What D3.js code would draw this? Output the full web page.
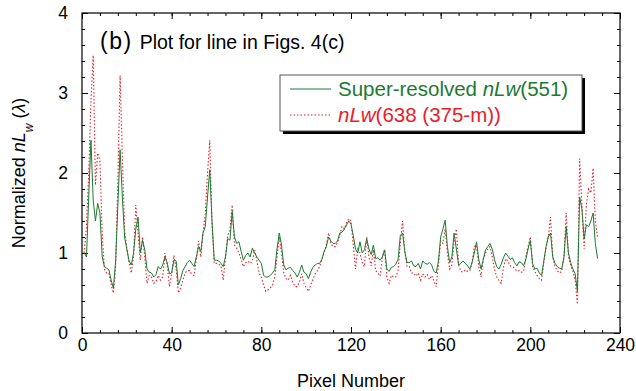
<!DOCTYPE html>
<html>
<head>
<meta charset="utf-8">
<script src="https://cdn.jsdelivr.net/npm/d3@7/dist/d3.min.js"></script>
<style>
  body { margin: 0; background: #fff; }
  svg { display: block; font-family: "Liberation Sans", Arial, sans-serif; }
</style>
</head>
<body>
<svg></svg>
<script>
// pixel numbers start at 1, one value per pixel along the line
var firstPixel = 1;

var superResolved = [
  1.00, 0.95, 1.70, 2.41, 1.66, 1.40, 1.62, 1.50, 0.96, 0.83,
  0.81, 0.79, 0.66, 0.56, 0.90, 1.60, 2.29, 1.70, 1.20, 1.05,
  0.90, 0.85, 1.00, 1.30, 1.45, 1.00, 1.16, 1.04, 0.80, 0.76,
  0.75, 0.70, 0.73, 0.83, 0.80, 0.85, 0.95, 0.88, 0.74, 0.75,
  0.91, 0.90, 0.60, 0.68, 0.78, 0.83, 0.88, 0.91, 0.87, 0.83,
  0.95, 1.08, 1.02, 1.25, 1.33, 1.70, 2.04, 1.40, 0.91, 0.91,
  0.90, 0.87, 0.83, 0.95, 1.18, 1.16, 1.52, 1.20, 1.12, 1.14,
  1.02, 0.91, 0.97, 1.00, 0.95, 1.06, 1.00, 0.95, 0.91, 0.87,
  0.72, 0.70, 0.70, 0.72, 0.75, 0.79, 1.05, 1.25, 1.10, 0.85,
  0.79, 0.81, 0.82, 0.78, 0.75, 0.70, 0.76, 0.85, 0.76, 0.74,
  0.68, 0.76, 0.82, 0.85, 0.87, 0.87, 0.92, 1.02, 1.08, 1.20,
  1.15, 1.12, 1.12, 1.15, 1.25, 1.26, 1.30, 1.35, 1.40, 1.36,
  1.22, 1.05, 1.00, 1.14, 1.00, 1.04, 1.18, 1.05, 0.98, 1.10,
  0.93, 0.94, 0.91, 0.95, 1.04, 0.80, 0.77, 0.82, 0.83, 0.86,
  0.92, 1.22, 1.25, 1.02, 0.88, 0.88, 0.90, 0.84, 0.83, 0.87,
  0.80, 0.90, 0.87, 0.86, 0.88, 0.85, 0.77, 0.75, 0.90, 1.20,
  1.30, 1.41, 1.08, 0.88, 0.95, 1.25, 1.05, 0.85, 0.87, 0.90,
  0.87, 0.84, 0.80, 0.88, 1.00, 1.14, 0.92, 0.80, 0.92, 1.04,
  1.08, 1.12, 1.05, 0.92, 0.83, 0.80, 0.86, 0.94, 1.00, 0.96,
  0.92, 0.94, 0.88, 0.84, 0.89, 0.88, 0.84, 0.92, 1.05, 1.16,
  0.87, 0.80, 0.81, 0.75, 0.72, 0.90, 1.08, 1.20, 1.25, 0.95,
  0.87, 0.83, 0.81, 0.80, 0.95, 1.33, 1.00, 0.88, 0.80, 0.74,
  0.52, 1.70, 1.55, 1.18, 1.35, 1.33, 1.40, 1.50, 1.12, 0.93
];

var band638 = [
  1.00, 1.33, 2.00, 2.90, 3.47, 1.85, 2.25, 2.15, 1.25, 0.80,
  0.75, 0.75, 0.60, 0.50, 0.83, 1.90, 3.22, 2.20, 1.30, 1.05,
  0.88, 0.75, 0.95, 1.60, 1.25, 0.91, 1.20, 0.95, 0.62, 0.72,
  0.70, 0.62, 0.64, 0.72, 0.66, 0.70, 1.00, 0.85, 0.58, 0.75,
  0.97, 0.80, 0.50, 0.56, 0.66, 0.75, 0.78, 0.78, 0.73, 0.72,
  0.92, 1.15, 0.95, 1.25, 1.50, 2.00, 2.41, 1.35, 0.87, 0.87,
  0.86, 0.84, 0.66, 0.95, 1.22, 1.28, 1.60, 1.10, 1.06, 1.00,
  0.92, 0.83, 0.88, 0.90, 0.87, 0.90, 1.04, 0.91, 0.75, 0.70,
  0.60, 0.52, 0.54, 0.56, 0.60, 0.70, 0.95, 1.20, 1.00, 0.75,
  0.68, 0.66, 0.72, 0.64, 0.58, 0.58, 0.64, 0.74, 0.62, 0.57,
  0.52, 0.60, 0.67, 0.74, 0.78, 0.83, 0.92, 1.00, 1.10, 1.25,
  1.12, 1.08, 1.08, 1.13, 1.22, 1.33, 1.30, 1.38, 1.43, 1.40,
  1.10, 0.80, 1.05, 1.00, 0.88, 0.83, 1.20, 0.95, 0.84, 1.04,
  0.78, 0.75, 0.71, 0.95, 1.04, 0.70, 0.62, 0.72, 0.70, 0.70,
  0.78, 1.12, 1.40, 1.02, 0.83, 0.83, 0.75, 0.75, 0.71, 0.75,
  0.66, 0.74, 0.70, 0.73, 0.67, 0.72, 0.65, 0.58, 0.85, 1.15,
  1.12, 1.30, 1.00, 0.80, 0.85, 1.15, 1.30, 0.85, 0.77, 0.76,
  0.79, 0.77, 0.78, 0.88, 1.08, 1.10, 0.83, 0.70, 0.92, 1.00,
  1.05, 1.08, 0.95, 0.80, 0.70, 0.66, 0.62, 0.82, 0.93, 0.90,
  0.84, 0.83, 0.81, 0.77, 0.78, 0.76, 0.77, 0.95, 1.08, 1.20,
  0.83, 0.77, 0.72, 0.68, 0.66, 0.88, 1.05, 1.20, 1.45, 0.95,
  0.83, 0.78, 0.75, 0.77, 0.95, 1.50, 0.95, 0.85, 0.77, 0.66,
  0.36, 2.18, 1.60, 1.05, 1.60, 1.80, 1.75, 2.06, 1.40, 1.20
];

var xTicks = [0, 40, 80, 120, 160, 200, 240];
var yTicks = [0, 1, 2, 3, 4];

var width = 636;
var height = 391;
var margin = {left: 82, right: 16, top: 13, bottom: 58};

var green = "#1c7a32";
var red = "#e8202a";

var svg = d3.select('svg')
  .attr('width', width)
  .attr('height', height);

var xScale = d3.scaleLinear()
  .domain([0, 240])
  .range([margin.left, width - margin.right]);

var yScale = d3.scaleLinear()
  .domain([0, 4])
  .range([height - margin.bottom, margin.top]);

var plotW = width - margin.left - margin.right;
var plotH = height - margin.top - margin.bottom;

// frame
svg.append('rect')
  .attr('x', margin.left)
  .attr('y', margin.top)
  .attr('width', plotW)
  .attr('height', plotH)
  .attr('fill', 'none')
  .attr('stroke', '#000')
  .attr('stroke-width', 1.2);

function styleAxis(g) {
  g.select('.domain').remove();
  g.selectAll('.tick line').attr('stroke', '#000').attr('stroke-width', 1);
  g.selectAll('.tick text').attr('fill', '#000').style('font-size', '17.5px').style('font-family', '"Liberation Sans", Arial, sans-serif');
}

var minorX = d3.range(0, 241, 8);
var minorY = d3.range(0, 4.01, 0.2);

// bottom
svg.append('g').attr('transform', 'translate(0,' + (height - margin.bottom) + ')')
  .call(d3.axisBottom(xScale).tickValues(minorX).tickSize(-3).tickFormat(''))
  .call(styleAxis);
svg.append('g').attr('transform', 'translate(0,' + (height - margin.bottom) + ')')
  .call(d3.axisBottom(xScale).tickValues(xTicks).tickSize(-6).tickPadding(6).tickFormat(d3.format('d')))
  .call(styleAxis);
// top
svg.append('g').attr('transform', 'translate(0,' + margin.top + ')')
  .call(d3.axisTop(xScale).tickValues(minorX).tickSize(-3).tickFormat(''))
  .call(styleAxis);
svg.append('g').attr('transform', 'translate(0,' + margin.top + ')')
  .call(d3.axisTop(xScale).tickValues(xTicks).tickSize(-6).tickFormat(''))
  .call(styleAxis);
// left
svg.append('g').attr('transform', 'translate(' + margin.left + ',0)')
  .call(d3.axisLeft(yScale).tickValues(minorY).tickSize(-3).tickFormat(''))
  .call(styleAxis);
svg.append('g').attr('transform', 'translate(' + margin.left + ',0)')
  .call(d3.axisLeft(yScale).tickValues(yTicks).tickSize(-6).tickPadding(14).tickFormat(d3.format('d')))
  .call(styleAxis);
// right
svg.append('g').attr('transform', 'translate(' + (width - margin.right) + ',0)')
  .call(d3.axisRight(yScale).tickValues(minorY).tickSize(-3).tickFormat(''))
  .call(styleAxis);
svg.append('g').attr('transform', 'translate(' + (width - margin.right) + ',0)')
  .call(d3.axisRight(yScale).tickValues(yTicks).tickSize(-6).tickFormat(''))
  .call(styleAxis);

var line = d3.line()
  .x(function(d, i) { return xScale(firstPixel + i); })
  .y(function(d) { return yScale(d); });

svg.append('path')
  .datum(band638)
  .attr('d', line)
  .attr('fill', 'none')
  .attr('stroke', red)
  .attr('stroke-width', 1.1)
  .attr('stroke-dasharray', '1.5,2');

svg.append('path')
  .datum(superResolved)
  .attr('d', line)
  .attr('fill', 'none')
  .attr('stroke', green)
  .attr('stroke-width', 1);

// panel title
var title = svg.append('text')
  .attr('x', 100)
  .attr('y', 49)
  .attr('fill', '#000');
title.append('tspan').style('font-size', '23px').style('letter-spacing', '1.5px').text('(b)');
title.append('tspan').attr('dx', 7).style('font-size', '19.5px').text('Plot for line in Figs. 4(c)');

// legend
var lg = svg.append('g');
lg.append('rect')
  .attr('x', 283).attr('y', 78).attr('width', 302).attr('height', 56)
  .attr('fill', '#000');
lg.append('rect')
  .attr('x', 280).attr('y', 75).attr('width', 302).attr('height', 56)
  .attr('fill', '#fff').attr('stroke', '#555').attr('stroke-width', 1);

lg.append('line')
  .attr('x1', 290).attr('x2', 331).attr('y1', 89).attr('y2', 89)
  .attr('stroke', green).attr('stroke-width', 1);
lg.append('line')
  .attr('x1', 290).attr('x2', 331).attr('y1', 115).attr('y2', 115)
  .attr('stroke', red).attr('stroke-width', 1.1).attr('stroke-dasharray', '1.5,2');

var t1 = lg.append('text').attr('x', 338).attr('y', 96).attr('fill', green).style('font-size', '20.5px');
t1.append('tspan').text('Super-resolved ');
t1.append('tspan').style('font-style', 'italic').text('nLw');
t1.append('tspan').text('(551)');

var t2 = lg.append('text').attr('x', 338).attr('y', 122).attr('fill', red).style('font-size', '20.5px');
t2.append('tspan').style('font-style', 'italic').text('nLw');
t2.append('tspan').text('(638 (375-m))');

// axis titles
svg.append('text')
  .attr('x', xScale(120))
  .attr('y', 387)
  .attr('text-anchor', 'middle')
  .attr('fill', '#000')
  .style('font-size', '18px')
  .text('Pixel Number');

var yt = svg.append('text')
  .attr('transform', 'translate(25,' + yScale(2) + ') rotate(-90)')
  .attr('text-anchor', 'middle')
  .attr('fill', '#000')
  .style('font-size', '18px');
yt.append('tspan').text('Normalized ');
yt.append('tspan').style('font-style', 'italic').text('nL');
yt.append('tspan').attr('dy', 8).style('font-size', '12px').style('font-style', 'italic').text('w');
yt.append('tspan').attr('dy', -8).text(' (');
yt.append('tspan').style('font-style', 'italic').text('λ');
yt.append('tspan').text(')');
</script>
</body>
</html>
